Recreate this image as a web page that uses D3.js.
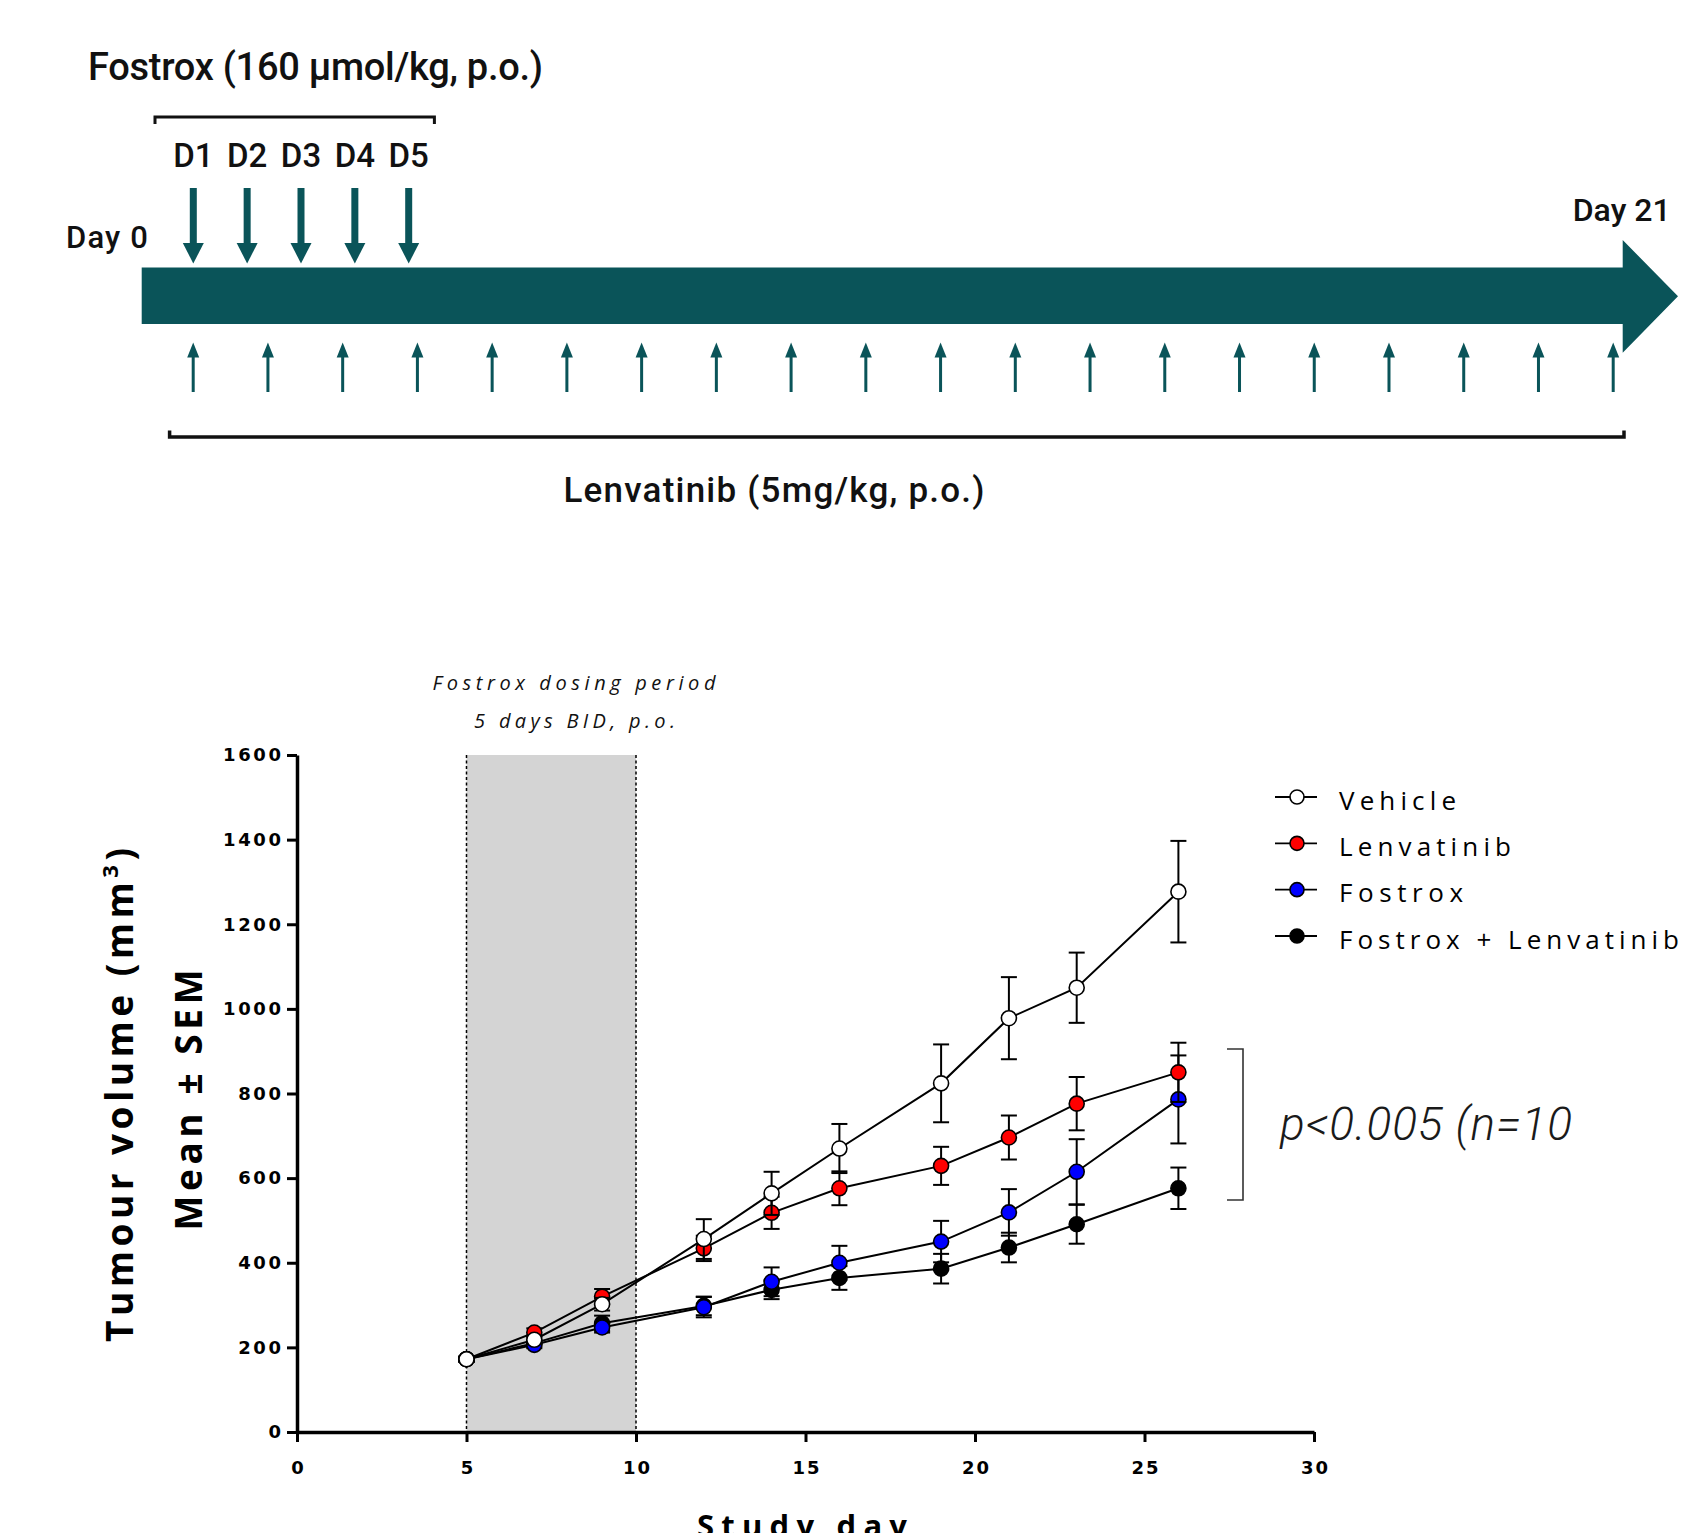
<!DOCTYPE html>
<html>
<head>
<meta charset="utf-8">
<script src="https://cdn.jsdelivr.net/npm/d3@7"></script>
<style>
  html, body { margin: 0; padding: 0; background: #ffffff; }
  svg { display: block; }
</style>
</head>
<body>
<script>
// ---------------- DATA ----------------
const days = [5, 7, 9, 12, 14, 16, 19, 21, 23, 26];
const seriesNames = ["Vehicle", "Lenvatinib", "Fostrox", "Fostrox + Lenvatinib"];
const vehicleMean = [172, 218, 302, 456, 564, 670, 824, 978, 1050, 1277];
const vehicleSem  = [6, 10, 15, 47, 51, 58, 92, 97, 83, 120];
const lenvatinibMean = [172, 235, 320, 434, 518, 576, 629, 696, 776, 850];
const lenvatinibSem  = [6, 10, 18, 30, 38, 40, 45, 52, 63, 70];
const fostroxMean = [172, 206, 247, 295, 355, 400, 450, 519, 615, 786];
const fostroxSem  = [6, 8, 12, 24, 34, 40, 49, 55, 77, 104];
const comboMean = [172, 210, 257, 298, 336, 364, 386, 436, 491, 576];
const comboSem  = [6, 8, 18, 22, 22, 28, 35, 35, 46, 49];
const seriesColors = ["#ffffff", "#ff0000", "#0000ff", "#000000"];
const xTicks = [0, 5, 10, 15, 20, 25, 30];
const yTicks = [0, 200, 400, 600, 800, 1000, 1200, 1400, 1600];
const dosingPeriod = [5, 10];
const fostroxDoseLabels = ["D1", "D2", "D3", "D4", "D5"];
const lenvatinibDoseDays = [1, 2, 3, 4, 5, 6, 7, 8, 9, 10, 11, 12, 13, 14, 15, 16, 17, 18, 19, 20];
const pValueText = "p<0.005 (n=10";

// ---------------- SETUP ----------------
const W = 1683, H = 1533;
const teal = "#0a5459";
const svg = d3.select("body").append("svg").attr("width", W).attr("height", H)
  .style("background", "#fff");

// fit text width by adjusting letter-spacing
function fit(sel, target, anchor) {
  sel.each(function () {
    const t = d3.select(this);
    t.style("letter-spacing", "0px");
    const w = this.getComputedTextLength();
    const n = this.textContent.length;
    const ls = n > 1 ? (target - w) / (n - 1) : 0;
    t.style("letter-spacing", ls + "px");
    if (anchor === "middle") t.attr("dx", ls / 2);
    if (anchor === "end") t.attr("dx", ls);
  });
}

// ---------------- TIMELINE ----------------
const tl = svg.append("g");
const barL = 141.7, barR = 1622.7, barT = 267.5, barB = 324, headT = 240, headB = 352.7, tipX = 1678, tipY = 296.3;
tl.append("path")
  .attr("d", `M${barL},${barT}L${barR},${barT}L${barR},${headT}L${tipX},${tipY}L${barR},${headB}L${barR},${barB}L${barL},${barB}Z`)
  .attr("fill", teal);

const fx = d3.scalePoint().domain(fostroxDoseLabels).range([193.3, 408.7]);
const down = tl.selectAll("g.down").data(fostroxDoseLabels).join("g").attr("class", "down");
down.append("rect").attr("x", d => fx(d) - 3.5).attr("y", 188).attr("width", 7).attr("height", 57).attr("fill", teal);
down.append("path").attr("d", d => `M${fx(d) - 10.5},243L${fx(d) + 10.5},243L${fx(d)},263.5Z`).attr("fill", teal);
down.append("text").attr("x", d => fx(d)).attr("y", 167).attr("text-anchor", "middle")
  .style("font-family", "Roboto, 'Noto Sans', sans-serif").style("font-weight", 500).style("font-size", "33px")
  .attr("fill", "#111").text(d => d);

const lx = d3.scaleLinear().domain([1, 20]).range([193.2, 1613.2]);
const up = tl.selectAll("g.up").data(lenvatinibDoseDays).join("g").attr("class", "up");
up.append("rect").attr("x", d => lx(d) - 1.5).attr("y", 354).attr("width", 3).attr("height", 38).attr("fill", teal);
up.append("path").attr("d", d => `M${lx(d) - 6},357.5L${lx(d) + 6},357.5L${lx(d)},342.5Z`).attr("fill", teal);

tl.append("path").attr("d", "M155,124V117H434.4V124").attr("fill", "none").attr("stroke", "#111").attr("stroke-width", 3);
tl.append("path").attr("d", "M169.6,430.5V437H1624V430.5").attr("fill", "none").attr("stroke", "#111").attr("stroke-width", 3.5);

const tfont = "Roboto, 'Noto Sans', sans-serif";
fit(tl.append("text").attr("x", 88).attr("y", 80).style("font-family", tfont).style("font-weight", 500)
  .style("font-size", "38px").attr("fill", "#111").text("Fostrox (160 μmol/kg, p.o.)"), 455);
fit(tl.append("text").attr("x", 66).attr("y", 248).style("font-family", tfont).style("font-weight", 500)
  .style("font-size", "31px").attr("fill", "#111").text("Day 0"), 82);
fit(tl.append("text").attr("x", 1572.7).attr("y", 221).style("font-family", tfont).style("font-weight", 500)
  .style("font-size", "32px").attr("fill", "#111").text("Day 21"), 98);
fit(tl.append("text").attr("x", 563.5).attr("y", 502).style("font-family", tfont).style("font-weight", 500)
  .style("font-size", "35px").attr("fill", "#111").text("Lenvatinib (5mg/kg, p.o.)"), 421);

// ---------------- CHART ----------------
const x = d3.scaleLinear().domain([0, 30]).range([297, 1314]);
const y = d3.scaleLinear().domain([0, 1600]).range([1432, 755]);
const g = svg.append("g");

// dosing period shade
g.append("rect").attr("x", x(dosingPeriod[0])).attr("y", y(1600))
  .attr("width", x(dosingPeriod[1]) - x(dosingPeriod[0])).attr("height", y(0) - y(1600))
  .attr("fill", "#d4d4d4");
g.selectAll("line.dash").data(dosingPeriod).join("line").attr("class", "dash")
  .attr("x1", d => x(d)).attr("x2", d => x(d)).attr("y1", y(1600)).attr("y2", y(0))
  .attr("stroke", "#000").attr("stroke-width", 1.5).attr("stroke-dasharray", "3,2.5");

// axes
const tickFont = "'DejaVu Sans', sans-serif";
const yAxis = g.append("g").attr("transform", `translate(${x(0)},0)`)
  .call(d3.axisLeft(y).tickValues(yTicks).tickFormat(d3.format("d")).tickSize(10).tickSizeOuter(0).tickPadding(6));
const xAxis = g.append("g").attr("transform", `translate(0,${y(0)})`)
  .call(d3.axisBottom(x).tickValues(xTicks).tickFormat(d3.format("d")).tickSize(10).tickSizeOuter(0).tickPadding(19));
[yAxis, xAxis].forEach(a => {
  a.select(".domain").attr("stroke", "#000").attr("stroke-width", 3.5);
  a.selectAll(".tick line").attr("stroke", "#000").attr("stroke-width", 3);
  a.selectAll(".tick text").attr("fill", "#000").style("font-family", tickFont)
    .style("font-weight", "bold").style("font-size", "18px");
});
yAxis.selectAll(".tick text").style("letter-spacing", "2.6px").attr("dx", "2.6px");
xAxis.selectAll(".tick text").style("letter-spacing", "1.8px").attr("dx", "0.9px");

// axis titles
const titleFont = "'Open Sans', 'DejaVu Sans', sans-serif";
const yt = g.append("text").attr("transform", `translate(133,1095) rotate(-90)`).attr("text-anchor", "middle")
  .style("font-family", titleFont).style("font-weight", "bold").style("font-size", "37px").attr("fill", "#000");
yt.append("tspan").text("Tumour volume (mm");
yt.append("tspan").attr("baseline-shift", "super").style("font-size", "22px").text("3");
yt.append("tspan").text(")");
fit(yt, 494, "middle");
fit(g.append("text").attr("transform", `translate(202,1100) rotate(-90)`).attr("text-anchor", "middle")
  .style("font-family", titleFont).style("font-weight", "bold").style("font-size", "37px").attr("fill", "#000")
  .text("Mean ± SEM"), 261, "middle");
fit(g.append("text").attr("x", 802).attr("y", 1537).attr("text-anchor", "middle")
  .style("font-family", titleFont).style("font-weight", "bold").style("font-size", "31px").attr("fill", "#000")
  .text("Study day"), 210, "middle");

// annotation
const annFont = "'Open Sans', sans-serif";
fit(g.append("text").attr("x", 574).attr("y", 690).attr("text-anchor", "middle")
  .style("font-family", annFont).style("font-style", "italic").style("font-size", "20px").attr("fill", "#111")
  .text("Fostrox dosing period"), 283, "middle");
fit(g.append("text").attr("x", 574.5).attr("y", 728).attr("text-anchor", "middle")
  .style("font-family", annFont).style("font-style", "italic").style("font-size", "20px").attr("fill", "#111")
  .text("5 days BID, p.o."), 201, "middle");

// series
const means = [vehicleMean, lenvatinibMean, fostroxMean, comboMean];
const sems = [vehicleSem, lenvatinibSem, fostroxSem, comboSem];
const series = seriesNames.map((name, i) => ({
  name, color: seriesColors[i],
  pts: days.map((d, j) => ({ day: d, v: means[i][j], e: sems[i][j] }))
}));
const line = d3.line().x(d => x(d.day)).y(d => y(d.v));
const drawOrder = [3, 2, 1, 0];
drawOrder.forEach(i => {
  const s = series[i];
  const sg = g.append("g");
  const eb = sg.selectAll("g.eb").data(s.pts).join("g").attr("class", "eb");
  eb.append("line").attr("x1", d => x(d.day)).attr("x2", d => x(d.day))
    .attr("y1", d => y(d.v - d.e)).attr("y2", d => y(d.v + d.e)).attr("stroke", "#000").attr("stroke-width", 2);
  eb.append("line").attr("x1", d => x(d.day) - 8).attr("x2", d => x(d.day) + 8)
    .attr("y1", d => y(d.v + d.e)).attr("y2", d => y(d.v + d.e)).attr("stroke", "#000").attr("stroke-width", 2);
  eb.append("line").attr("x1", d => x(d.day) - 8).attr("x2", d => x(d.day) + 8)
    .attr("y1", d => y(d.v - d.e)).attr("y2", d => y(d.v - d.e)).attr("stroke", "#000").attr("stroke-width", 2);
  sg.append("path").attr("d", line(s.pts)).attr("fill", "none").attr("stroke", "#000").attr("stroke-width", 2);
  sg.selectAll("circle").data(s.pts).join("circle")
    .attr("cx", d => x(d.day)).attr("cy", d => y(d.v)).attr("r", 7.5)
    .attr("fill", s.color).attr("stroke", "#000").attr("stroke-width", 1.6);
});

// legend
const lg = svg.append("g");
const ly = d3.scalePoint().domain(seriesNames).range([797, 936]);
series.forEach(s => {
  const yy = ly(s.name);
  lg.append("line").attr("x1", 1275).attr("x2", 1317).attr("y1", yy).attr("y2", yy).attr("stroke", "#000").attr("stroke-width", 1.8);
  lg.append("circle").attr("cx", 1297).attr("cy", yy).attr("r", 7).attr("fill", s.color).attr("stroke", "#000").attr("stroke-width", 1.6);
});
const legendWidths = [117, 172, 124, 340];
series.forEach((s, i) => {
  fit(lg.append("text").attr("x", 1339).attr("y", ly(s.name) + 12.5)
    .style("font-family", annFont).style("font-size", "26px").attr("fill", "#000").text(s.name), legendWidths[i]);
});

// significance bracket and p-value
svg.append("path").attr("d", "M1227,1049H1243V1200H1227").attr("fill", "none").attr("stroke", "#333").attr("stroke-width", 1.6);
fit(svg.append("text").attr("x", 1280).attr("y", 1140)
  .style("font-family", "Roboto, 'Open Sans', sans-serif").style("font-weight", 300).style("font-style", "italic")
  .style("font-size", "46px").attr("fill", "#1a1a1a").text(pValueText), 292);
</script>
</body>
</html>
